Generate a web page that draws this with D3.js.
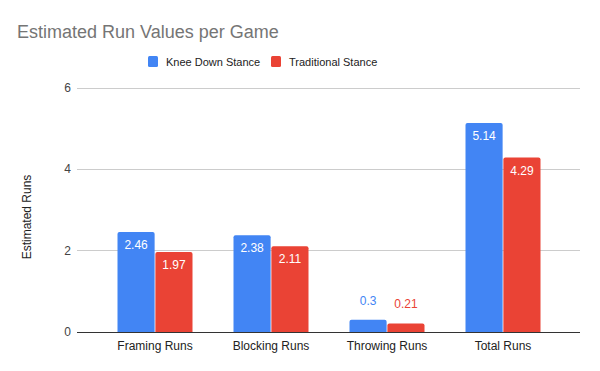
<!DOCTYPE html>
<html>
<head>
<meta charset="utf-8">
<script src="https://cdn.jsdelivr.net/npm/d3@7"></script>
<style>
  body { margin: 0; background: #fff; }
  svg { display: block; font-family: Arial, "Liberation Sans", sans-serif; }
</style>
</head>
<body>
<svg id="chart" width="600" height="371"></svg>
<script>
// Data
const categories = ['Framing Runs', 'Blocking Runs', 'Throwing Runs', 'Total Runs'];
const seriesNames = ['Knee Down Stance', 'Traditional Stance'];
const kneeDown = [2.46, 2.38, 0.3, 5.14];
const traditional = [1.97, 2.11, 0.21, 4.29];
const yTicks = [0, 2, 4, 6];
const colours = ['#4285F4', '#EA4335'];

const svg = d3.select('#chart');
const W = 600, H = 371;
svg.append('rect').attr('width', W).attr('height', H).attr('fill', '#fff');

const gridLeft = 77, gridRight = 580;

const x = d3.scaleBand().domain(categories).range([97, 561]);
const xs = d3.scaleBand().domain(seriesNames).range([0, 75]).paddingInner(0.02);
const y = d3.scaleLinear().domain([0, 6]).range([332, 88]);

// Title
svg.append('text')
  .attr('x', 17).attr('y', 38)
  .attr('font-size', 18).attr('fill', '#757575')
  .text('Estimated Run Values per Game');

// Legend
const legendX = [148, 271];
seriesNames.forEach((s, i) => {
  svg.append('rect')
    .attr('x', legendX[i]).attr('y', 56).attr('width', 10).attr('height', 11)
    .attr('rx', 1.5).attr('fill', colours[i]);
  svg.append('text')
    .attr('x', legendX[i] + 18).attr('y', 66)
    .attr('font-size', 11).attr('fill', '#222')
    .text(s);
});

// Gridlines
svg.append('g').selectAll('line')
  .data(yTicks.filter(d => d !== 0)).enter().append('line')
  .attr('x1', gridLeft).attr('x2', gridRight)
  .attr('y1', d => y(d)).attr('y2', d => y(d))
  .attr('stroke', '#cccccc').attr('stroke-width', 1)
  .attr('shape-rendering', 'crispEdges');

// Y tick labels
svg.append('g').selectAll('text')
  .data(yTicks).enter().append('text')
  .attr('x', 71).attr('y', d => y(d) + 4)
  .attr('text-anchor', 'end')
  .attr('font-size', 12).attr('fill', '#444')
  .text(d => d);

// Y axis title
svg.append('text')
  .attr('transform', 'translate(31,217) rotate(-90)')
  .attr('text-anchor', 'middle')
  .attr('font-size', 12).attr('fill', '#222')
  .text('Estimated Runs');

// Bars
const rows = categories.map((c, i) => ({ cat: c, vals: [kneeDown[i], traditional[i]] }));
const groups = svg.append('g').selectAll('g')
  .data(rows).enter().append('g')
  .attr('transform', d => `translate(${x(d.cat) + (x.bandwidth() - 75) / 2},0)`);

groups.each(function (d) {
  const g = d3.select(this);
  d.vals.forEach((v, i) => {
    const bx = xs(seriesNames[i]);
    const bw = xs.bandwidth();
    const top = y(v);
    const h = y(0) - top;
    const r = 2;
    g.append('path')
      .attr('d', `M${bx},${y(0)}V${top + r}Q${bx},${top} ${bx + r},${top}H${bx + bw - r}Q${bx + bw},${top} ${bx + bw},${top + r}V${y(0)}Z`)
      .attr('fill', colours[i]);
    const inside = h > 25;
    g.append('text')
      .attr('x', bx + bw / 2)
      .attr('y', inside ? top + 17 : top - 15)
      .attr('text-anchor', 'middle')
      .attr('font-size', 12)
      .attr('fill', inside ? '#fff' : colours[i])
      .text(v);
  });
});

// Baseline
svg.append('line')
  .attr('x1', gridLeft).attr('x2', gridRight)
  .attr('y1', y(0)).attr('y2', y(0))
  .attr('stroke', '#333').attr('stroke-width', 1)
  .attr('shape-rendering', 'crispEdges');

// X labels
svg.append('g').selectAll('text')
  .data(categories).enter().append('text')
  .attr('x', d => x(d) + x.bandwidth() / 2)
  .attr('y', 350)
  .attr('text-anchor', 'middle')
  .attr('font-size', 12).attr('fill', '#222')
  .text(d => d);
</script>
</body>
</html>
